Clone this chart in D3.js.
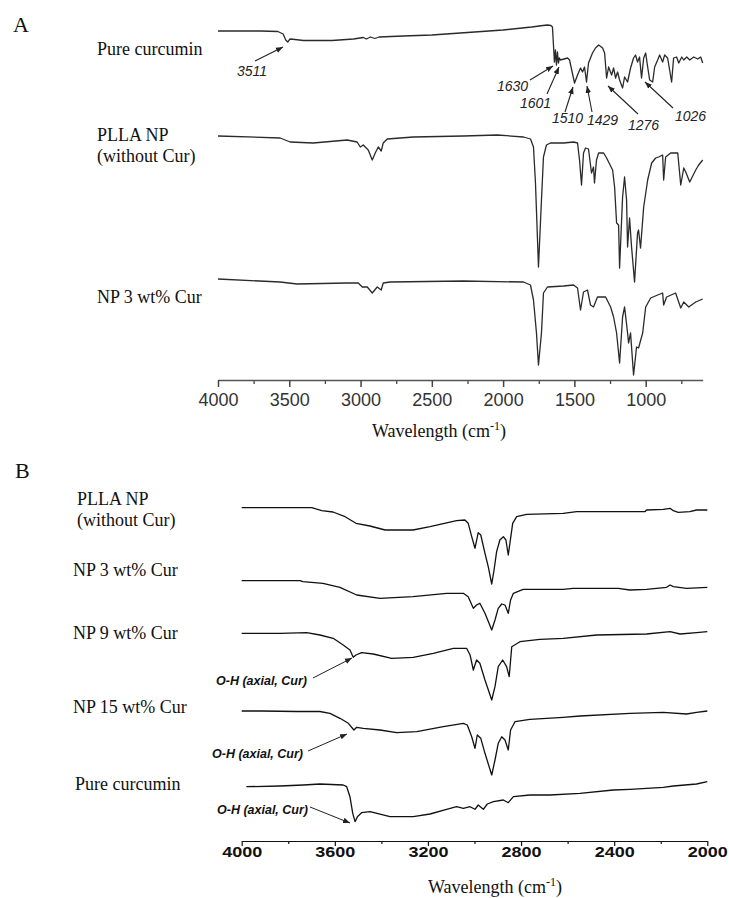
<!DOCTYPE html>
<html>
<head>
<meta charset="utf-8">
<script src="https://cdn.jsdelivr.net/npm/d3@7"></script>
<style>
  body { margin: 0; background: #fff; }
  svg { display: block; }
  .lbl { font-family: "Liberation Serif", "Times New Roman", serif; font-size: 18px; fill: #111; }
  .panel { font-family: "Liberation Serif", "Times New Roman", serif; font-size: 22px; fill: #111; }
  .peak { font-family: "Liberation Sans", Arial, sans-serif; font-style: italic; font-size: 14px; fill: #222; }
  .oh { font-family: "Liberation Sans", Arial, sans-serif; font-style: italic; font-weight: bold; font-size: 12.5px; fill: #111; }
</style>
</head>
<body>
<svg id="chart" width="729" height="898"></svg>
<script>
// Panel A spectra: [wavenumber (cm-1), relative transmittance (a.u.)]
const curcuminA = [
  [4000, 0], [3700, 0], [3580, -0.5], [3543, -3], [3525, -9], [3511, -11], [3495, -8], [3460, -8.5],
  [3400, -9.5], [3200, -9.5], [3050, -8], [2980, -6.5], [2960, -8], [2930, -6], [2900, -7.5], [2870, -6],
  [2700, -5], [2500, -4], [2200, -1], [2000, 1], [1800, 4], [1720, 5.5], [1690, 6], [1665, 5.5],
  [1654, 4], [1640, -31], [1633, -19], [1626, -34], [1619, -21], [1612, -32], [1605, -27], [1598, -29],
  [1548, -27], [1534, -29], [1499, -52], [1478, -44], [1457, -37], [1443, -41], [1429, -36], [1415, -51],
  [1401, -32], [1373, -22], [1352, -17], [1330, -14], [1302, -17], [1288, -22], [1274, -47], [1260, -36],
  [1239, -44], [1225, -37], [1211, -47], [1197, -41], [1183, -49], [1162, -57], [1148, -46], [1127, -51],
  [1106, -37], [1085, -27], [1071, -24], [1057, -31], [1043, -26], [1029, -47], [1014, -27], [1000, -22],
  [986, -36], [972, -49], [951, -51], [937, -36], [916, -29], [902, -24], [881, -31], [867, -24],
  [846, -27], [832, -39], [818, -51], [804, -27], [783, -26], [768, -32], [747, -26], [733, -29],
  [712, -26], [691, -29], [663, -26], [635, -28], [614, -26], [600, -32]
];
const pllaA = [
  [4000, 0], [3564, -2], [3494, -6], [3333, -7], [3094, -4], [3024, -6], [3002, -11], [2981, -9],
  [2946, -14], [2918, -24], [2897, -17], [2876, -11], [2855, -15], [2841, -7], [2813, -3], [2630, -1],
  [2279, 0], [2040, 1], [1857, -1], [1808, -3], [1787, -11], [1773, -47], [1752, -131], [1731, -64],
  [1717, -21], [1696, -9], [1668, -7], [1576, -7], [1506, -6], [1478, -7], [1464, -24], [1450, -49],
  [1436, -17], [1422, -12], [1401, -13], [1380, -37], [1366, -31], [1359, -47], [1345, -24], [1330, -17],
  [1295, -17], [1274, -22], [1260, -26], [1232, -34], [1218, -51], [1204, -87], [1190, -89], [1183, -132],
  [1162, -61], [1148, -41], [1134, -64], [1127, -111], [1113, -82], [1099, -111], [1078, -146], [1057, -97],
  [1050, -94], [1036, -112], [1014, -71], [986, -44], [958, -27], [930, -22], [909, -21], [881, -19],
  [874, -44], [860, -21], [825, -17], [775, -17], [754, -49], [733, -32], [719, -36], [691, -46],
  [649, -34], [628, -29], [600, -24]
];
const np3A = [
  [4000, 0], [3564, -3], [3445, -5], [3094, -4], [3016, -4], [2988, -8], [2953, -8], [2918, -14],
  [2883, -8], [2855, -11], [2841, -4], [2792, -3], [2279, -2], [1857, -3], [1808, -6], [1787, -21],
  [1766, -54], [1752, -86], [1731, -54], [1717, -14], [1689, -8], [1576, -7], [1506, -6], [1478, -9],
  [1457, -31], [1436, -13], [1408, -11], [1387, -26], [1366, -28], [1338, -18], [1281, -18], [1246, -28],
  [1225, -38], [1204, -54], [1183, -84], [1162, -38], [1148, -28], [1127, -54], [1120, -64], [1106, -54],
  [1085, -96], [1064, -68], [1050, -69], [1021, -54], [1000, -28], [965, -19], [916, -16], [881, -14],
  [874, -26], [853, -18], [790, -14], [754, -29], [733, -23], [698, -28], [649, -23], [600, -20]
];

// Panel B spectra (4000-2000 cm-1)
const pllaB = [
  [4000, 0], [3699, 0], [3656, -3], [3608, -4.3], [3556, -9], [3509, -15.6], [3449, -18.3], [3384, -22.3],
  [3264, -22.3], [3191, -19], [3077, -13], [3041, -12.3], [3027, -15.6], [3012, -29], [2998, -40.6], [2984, -25],
  [2973, -27.3], [2955, -45.6], [2941, -59], [2926, -76.3], [2916, -62.3], [2905, -44], [2891, -32.3], [2876, -29],
  [2865, -32.3], [2855, -47.3], [2845, -30.6], [2836, -15.6], [2819, -9], [2776, -6.6], [2619, -5.6], [2561, -4],
  [2268, -4], [2261, -2.3], [2189, -1.6], [2160, -0.6], [2146, -3], [2125, -4.6], [2075, -4], [2046, -2.3],
  [2000, -2.3]
];
const np3B = [
  [4000, 0], [3750, 0], [3737, -1], [3651, -2.6], [3578, -6.6], [3506, -14.3], [3406, -17.6], [3264, -16],
  [3120, -12.6], [3048, -12.6], [3027, -16], [3005, -27.6], [2991, -24.3], [2977, -22.6], [2955, -32.6], [2926, -49.3],
  [2912, -39.3], [2898, -27.6], [2883, -23.3], [2869, -24.3], [2855, -32.6], [2845, -19.3], [2833, -12.6], [2791, -8.6],
  [2619, -8.6], [2576, -7.6], [2383, -7.6], [2332, -9.3], [2261, -8.6], [2175, -6.6], [2160, -4.3], [2146, -6],
  [2089, -7.6], [2000, -6.6]
];
const np9B = [
  [4000, 0], [3836, 0], [3721, 0.6], [3664, -1.7], [3607, -5], [3564, -11.7], [3535, -16.7], [3521, -24],
  [3509, -21.7], [3485, -19.4], [3435, -20.7], [3356, -25], [3263, -24], [3177, -20], [3091, -15], [3034, -15],
  [3019, -21.7], [3005, -36.7], [2991, -26.7], [2977, -30], [2955, -46.7], [2926, -66.7], [2912, -53.4], [2898, -33.4],
  [2879, -26.7], [2862, -33.4], [2851, -43.4], [2840, -13.4], [2805, -8.4], [2719, -6], [2619, -5], [2475, -1.7],
  [2261, -0.7], [2160, 1.6], [2117, -0.7], [2046, 0.6], [2000, 1.6]
];
const np15B = [
  [4000, 0], [3915, 0], [3764, -0.5], [3664, -0.5], [3621, -2.3], [3578, -7.3], [3542, -12.3], [3518, -19],
  [3506, -16.3], [3478, -17.3], [3406, -19], [3334, -21.7], [3248, -20.7], [3134, -15.7], [3048, -12.3], [3031, -14],
  [3012, -25.7], [2998, -37.3], [2988, -24], [2973, -27.3], [2955, -42.3], [2926, -64], [2912, -49], [2898, -32.3],
  [2883, -25.7], [2869, -29], [2855, -39], [2845, -19], [2826, -10.7], [2762, -8.3], [2619, -6.3], [2547, -5],
  [2332, -2.3], [2189, -1.3], [2089, -3], [2046, -1.3], [2000, 0]
];
const curcuminB = [
  [3980, 0], [3836, 0.7], [3735, 1.7], [3664, 2.7], [3564, 1.7], [3549, 0], [3535, -10], [3523, -26.6],
  [3513, -35], [3503, -30], [3485, -26], [3449, -25], [3363, -30], [3263, -30], [3191, -27.3], [3120, -22.6],
  [3077, -20], [3048, -21.6], [3019, -20], [2998, -22.6], [2984, -18.3], [2962, -22.6], [2945, -17.3], [2919, -15],
  [2876, -13.3], [2855, -16], [2833, -10], [2762, -8.3], [2676, -8.3], [2547, -6.6], [2404, -3.3], [2332, -2.6],
  [2189, -0.6], [2146, 0.7], [2046, 2.7], [2000, 5]
];

// stacking offsets (a.u.) and names
const seriesA = [
  { name: ["Pure curcumin"], data: curcuminA, offset: 349 },
  { name: ["PLLA NP", "(without Cur)"], data: pllaA, offset: 244 },
  { name: ["NP 3 wt% Cur"], data: np3A, offset: 101 }
];
const seriesB = [
  { name: ["PLLA NP", "(without Cur)"], data: pllaB, offset: 334.3 },
  { name: ["NP 3 wt% Cur"], data: np3B, offset: 261.3 },
  { name: ["NP 9 wt% Cur"], data: np9B, offset: 208.7 },
  { name: ["NP 15 wt% Cur"], data: np15B, offset: 131 },
  { name: ["Pure curcumin"], data: curcuminB, offset: 55.3 }
];

const majorA = [4000, 3500, 3000, 2500, 2000, 1500, 1000];
const minorA = [3750, 3250, 2750, 2250, 1750, 1250, 750];
const majorB = [4000, 3600, 3200, 2800, 2400, 2000];
const minorB = [3800, 3400, 3000, 2600, 2200];

const peaksA = ["3511", "1630", "1601", "1510", "1429", "1276", "1026"];
const ohLabel = "O-H (axial, Cur)";

// layout
const labelPosA = [[97, [55]], [97, [141, 162]], [97, [303]]];
const labelPosB = [[77, [505, 526]], [73, [576]], [73, [639]], [73, [713]], [75, [790]]];
const peakLayout = [
  { tx: 237, ty: 76, x1: 255, y1: 61, x2: 283, y2: 47 },
  { tx: 497, ty: 91, x1: 530, y1: 80, x2: 553, y2: 66 },
  { tx: 520, ty: 108, x1: 547, y1: 94, x2: 559, y2: 67 },
  { tx: 552, ty: 123, x1: 565, y1: 112, x2: 573, y2: 87 },
  { tx: 587, ty: 125, x1: 592, y1: 112, x2: 587, y2: 86 },
  { tx: 628, ty: 130, x1: 638, y1: 114, x2: 608, y2: 86 },
  { tx: 675, ty: 121, x1: 673, y1: 108, x2: 645, y2: 82 }
];
const ohLayout = [
  { tx: 307, ty: 685, x1: 313, y1: 678, x2: 352, y2: 658 },
  { tx: 303, ty: 758, x1: 308, y1: 751, x2: 347, y2: 734 },
  { tx: 308, ty: 814, x1: 310, y1: 807, x2: 350, y2: 823 }
];

const svg = d3.select("#chart");
svg.append("rect").attr("width", 729).attr("height", 898).attr("fill", "#fff");

const defs = svg.append("defs");
defs.append("marker")
  .attr("id", "head")
  .attr("viewBox", "0 0 10 10")
  .attr("refX", 10).attr("refY", 5)
  .attr("markerWidth", 7).attr("markerHeight", 7)
  .attr("markerUnits", "userSpaceOnUse")
  .attr("orient", "auto")
  .append("path")
  .attr("d", "M0,1 L10,5 L0,9 Z")
  .attr("fill", "#222");

const xA = d3.scaleLinear().domain([4000, 600]).range([218, 702.7]);
const yA = d3.scaleLinear().domain([0, 370]).range([380, 10]);
const xB = d3.scaleLinear().domain([4000, 2000]).range([241.7, 707.3]);
const yB = d3.scaleLinear().domain([0, 370]).range([842, 472]);

function drawSpectra(series, x, y, color, width) {
  series.forEach(s => {
    const line = d3.line()
      .x(d => x(d[0]))
      .y(d => y(s.offset + d[1]));
    svg.append("path")
      .datum(s.data)
      .attr("d", line)
      .attr("fill", "none")
      .attr("stroke", color)
      .attr("stroke-width", width)
      .attr("stroke-linejoin", "round");
  });
}

function drawNames(series, pos) {
  series.forEach((s, i) => {
    s.name.forEach((n, j) => {
      svg.append("text")
        .attr("class", "lbl")
        .attr("x", pos[i][0])
        .attr("y", pos[i][1][j])
        .text(n);
    });
  });
}

drawSpectra(seriesA, xA, yA, "#2a2a2a", 1.3);
drawSpectra(seriesB, xB, yB, "#111", 1.3);
drawNames(seriesA, labelPosA);
drawNames(seriesB, labelPosB);

// panel A axis
const axA = svg.append("g").attr("transform", "translate(0,380)");
axA.append("g")
  .call(d3.axisBottom(xA).tickValues(minorA).tickSize(4).tickFormat(""))
  .call(g => g.select(".domain").remove())
  .call(g => g.selectAll("line").attr("stroke", "#444").attr("stroke-width", 1.3));
axA.append("g")
  .call(d3.axisBottom(xA).tickValues(majorA).tickSize(7).tickSizeOuter(0).tickPadding(6).tickFormat(d3.format("d")))
  .call(g => g.select(".domain").attr("stroke", "#555").attr("stroke-width", 1.5))
  .call(g => g.selectAll("line").attr("stroke", "#444").attr("stroke-width", 1.5))
  .call(g => g.selectAll("text")
    .attr("font-family", "Liberation Sans, Arial, sans-serif")
    .attr("font-size", 18)
    .attr("fill", "#333"));

svg.append("text")
  .attr("class", "lbl")
  .attr("x", 439).attr("y", 437)
  .attr("text-anchor", "middle")
  .call(t => {
    t.append("tspan").text("Wavelength (cm");
    t.append("tspan").attr("dy", -7).attr("font-size", 12).text("-1");
    t.append("tspan").attr("dy", 7).text(")");
  });

// panel B axis
const axB = svg.append("g").attr("transform", "translate(0,841)");
axB.append("g")
  .call(d3.axisBottom(xB).tickValues(minorB).tickSize(3).tickFormat(""))
  .call(g => g.select(".domain").remove())
  .call(g => g.selectAll("line").attr("stroke", "#111").attr("stroke-width", 1.2));
axB.append("g")
  .call(d3.axisBottom(xB).tickValues(majorB).tickSize(5).tickSizeOuter(0).tickPadding(1).tickFormat(d3.format("d")))
  .call(g => g.select(".domain").attr("stroke", "#111").attr("stroke-width", 1.2))
  .call(g => g.selectAll("line").attr("stroke", "#111").attr("stroke-width", 1.2))
  .call(g => g.selectAll("text")
    .attr("font-family", "Liberation Sans, Arial, sans-serif")
    .attr("font-weight", "bold")
    .attr("font-size", 14)
    .attr("fill", "#111")
    .attr("textLength", 40)
    .attr("lengthAdjust", "spacingAndGlyphs"));

svg.append("text")
  .attr("class", "lbl")
  .attr("x", 495).attr("y", 893)
  .attr("text-anchor", "middle")
  .call(t => {
    t.append("tspan").text("Wavelength (cm");
    t.append("tspan").attr("dy", -7).attr("font-size", 12).text("-1");
    t.append("tspan").attr("dy", 7).text(")");
  });

// panel letters
svg.append("text").attr("class", "panel").attr("x", 13).attr("y", 32).text("A");
svg.append("text").attr("class", "panel").attr("x", 15).attr("y", 478).text("B");

// peak annotations, panel A
peaksA.forEach((p, i) => {
  const l = peakLayout[i];
  svg.append("text").attr("class", "peak").attr("x", l.tx).attr("y", l.ty).text(p);
  svg.append("line")
    .attr("x1", l.x1).attr("y1", l.y1).attr("x2", l.x2).attr("y2", l.y2)
    .attr("stroke", "#222").attr("stroke-width", 1.1)
    .attr("marker-end", "url(#head)");
});

// O-H annotations, panel B
ohLayout.forEach(l => {
  svg.append("text").attr("class", "oh")
    .attr("x", l.tx).attr("y", l.ty)
    .attr("text-anchor", "end")
    .text(ohLabel);
  svg.append("line")
    .attr("x1", l.x1).attr("y1", l.y1).attr("x2", l.x2).attr("y2", l.y2)
    .attr("stroke", "#222").attr("stroke-width", 1)
    .attr("marker-end", "url(#head)");
});
</script>
</body>
</html>
